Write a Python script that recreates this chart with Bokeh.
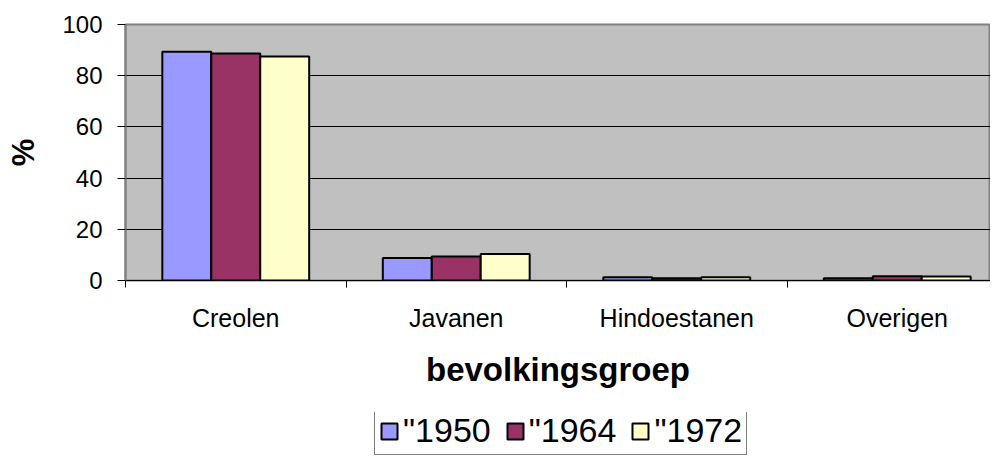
from bokeh.plotting import figure
from bokeh.models import (ColumnDataSource, Range1d, FixedTicker, Legend, LegendItem)
from bokeh.layouts import column
from bokeh.transform import dodge
from bokeh.embed import file_html
from bokeh.resources import INLINE

categories = ["Creolen", "Javanen", "Hindoestanen", "Overigen"]
series_names = ['"1950', '"1964', '"1972']
v1950 = [89.4, 8.8, 1.3, 0.9]
v1964 = [88.7, 9.4, 0.9, 1.7]
v1972 = [87.5, 10.4, 1.3, 1.6]
colors = ["#9999FF", "#993366", "#FFFFCC"]
y_ticks = [0, 20, 40, 60, 80, 100]

FONT = "Liberation Sans"

pos = [i + 0.5 for i in range(len(categories))]
source = ColumnDataSource(dict(x=pos, a=v1950, b=v1964, c=v1972))

p = figure(width=990, height=412, output_backend="svg", toolbar_location=None,
           x_range=Range1d(0, 865 / 220.5), y_range=Range1d(0, 100),
           min_border_left=125, min_border_right=0, min_border_top=24,
           min_border_bottom=132, background_fill_color="#C0C0C0",
           border_fill_color="white")

bw = 0.222
keys = ["a", "b", "c"]
offsets = [-bw, 0, bw]
for key, off, col in zip(keys, offsets, colors):
    p.vbar(x=dodge("x", off), top=key, width=bw, bottom=0, source=source,
           fill_color=col, line_color="black", line_width=2)

p.outline_line_color = "#808080"
p.outline_line_width = 2

# x axis
p.xaxis.ticker = FixedTicker(ticks=pos, minor_ticks=list(range(len(categories) + 1)))
p.xaxis.major_label_overrides = {pv: c for pv, c in zip(pos, categories)}
p.xaxis.major_tick_out = 0
p.xaxis.major_tick_in = 0
p.xaxis.minor_tick_out = 7
p.xaxis.minor_tick_in = 0
p.xaxis.minor_tick_line_color = "black"
p.xaxis.axis_line_color = "black"
p.xaxis.axis_line_width = 1
p.xaxis.major_label_text_font = FONT
p.xaxis.major_label_text_font_size = "25px"
p.xaxis.major_label_text_color = "black"
p.xaxis.major_label_standoff = 16
p.xaxis.axis_label = "bevolkingsgroep"
p.xaxis.axis_label_text_font = FONT
p.xaxis.axis_label_text_font_size = "33px"
p.xaxis.axis_label_text_font_style = "bold"
p.xaxis.axis_label_text_color = "black"
p.xaxis.axis_label_standoff = 16

# y axis
p.yaxis.ticker = FixedTicker(ticks=y_ticks)
p.yaxis.major_tick_out = 8
p.yaxis.major_tick_in = 0
p.yaxis.minor_tick_line_color = None
p.yaxis.major_tick_line_color = "black"
p.yaxis.axis_line_color = "#808080"
p.yaxis.axis_line_width = 2
p.yaxis.major_label_text_font = FONT
p.yaxis.major_label_text_font_size = "24px"
p.yaxis.major_label_text_color = "black"
p.yaxis.major_label_standoff = 15
p.yaxis.axis_label = "%"
p.yaxis.axis_label_text_font = FONT
p.yaxis.axis_label_text_font_size = "31px"
p.yaxis.axis_label_text_font_style = "bold"
p.yaxis.axis_label_text_color = "black"
p.yaxis.axis_label_standoff = 18

p.xgrid.grid_line_color = None
p.ygrid.ticker = FixedTicker(ticks=[20, 40, 60, 80])
p.ygrid.grid_line_color = "black"
p.ygrid.grid_line_width = 1

# legend strip below the chart (its frame is aligned with the chart's frame)
lg = figure(width=990, height=43, output_backend="svg", toolbar_location=None,
            x_range=Range1d(0, 1), y_range=Range1d(0, 1),
            min_border=0, border_fill_color="white", background_fill_color="white")
lg.axis.visible = False
lg.grid.grid_line_color = None
lg.outline_line_color = None
swatches = []
for key, off, col in zip(keys, offsets, colors):
    r = lg.vbar(x=dodge("x", off), top=key, width=bw, bottom=0, source=source,
                fill_color=col, line_color="black", line_width=2)
    r.visible = False
    swatches.append(r)

legend = Legend(items=[LegendItem(label=n, renderers=[r]) for n, r in zip(series_names, swatches)],
                orientation="horizontal", location=(249, 0),
                label_text_font=FONT, label_text_font_size="34px",
                label_text_color="black", glyph_width=20, glyph_height=20,
                label_standoff=4, spacing=14, padding=4, margin=0,
                inactive_fill_alpha=0.0,
                border_line_color="black", border_line_width=1,
                background_fill_color="white", background_fill_alpha=1.0)
lg.add_layout(legend, "center")

layout = column(p, lg, spacing=0)
open("out.html", "w").write(file_html(layout, INLINE))
